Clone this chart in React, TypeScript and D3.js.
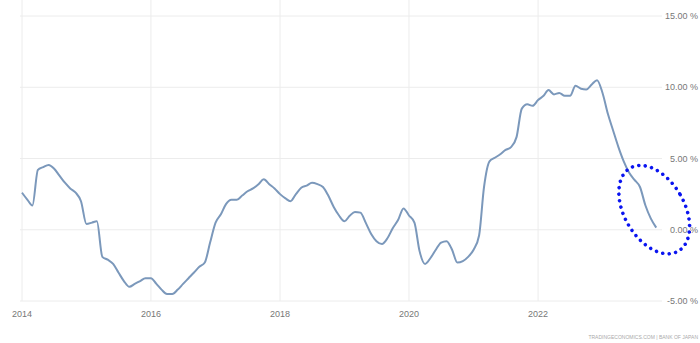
import React from "react";
import * as d3 from "d3";

const startYear = 2014;
const startMonth = 0;
const values: number[] = [
  2.6, 2.1, 1.7, 4.2, 4.4, 4.55, 4.3, 3.8, 3.3, 2.9, 2.6, 2.0,
  0.4, 0.5, 0.6, -1.9, -2.1, -2.4, -3.0, -3.6, -4.0, -3.8, -3.6, -3.4,
  -3.4, -3.8, -4.2, -4.5, -4.5, -4.2, -3.8, -3.4, -3.0, -2.6, -2.3, -0.9,
  0.5, 1.1, 1.8, 2.1, 2.1, 2.4, 2.7, 2.9, 3.2, 3.55, 3.2, 2.9,
  2.5, 2.2, 2.0, 2.5, 2.95, 3.1, 3.3, 3.2, 3.0, 2.4, 1.6, 1.0,
  0.6, 1.0, 1.25, 1.2, 0.5, -0.3, -0.8, -1.0, -0.6, 0.1, 0.7, 1.5,
  1.0, 0.5, -1.5, -2.4, -2.0, -1.4, -0.9, -0.8, -1.4, -2.3, -2.2, -1.9,
  -1.4, -0.4, 3.0, 4.8, 5.05, 5.3, 5.6, 5.8, 6.5, 8.5, 8.8, 8.7,
  9.1, 9.4, 9.8, 9.5, 9.6, 9.4, 9.4, 10.1, 9.9, 9.85, 10.2, 10.5,
  9.6, 8.1, 7.0, 5.8, 4.8, 4.0, 3.5, 3.0, 1.7, 0.8, 0.15,
];
const yTicks: number[] = [-5, 0, 5, 10, 15];
const xTickYears: number[] = [2014, 2016, 2018, 2020, 2022];
const sourceText = "TRADINGECONOMICS.COM | BANK OF JAPAN";

const W = 700;
const H = 343;

export default function App() {
  const data = values.map((v, i) => ({
    date: new Date(startYear, startMonth + i, 1),
    value: v,
  }));

  const x = d3
    .scaleTime()
    .domain([new Date(2014, 0, 1), new Date(2024, 0, 1)])
    .range([22, 22 + 64.5 * 10]);
  const y = d3.scaleLinear().domain([-5, 15]).range([301, 16]);

  const line = d3
    .line<{ date: Date; value: number }>()
    .x((d) => x(d.date))
    .y((d) => y(d.value))
    .curve(d3.curveMonotoneX);

  const font = "'Liberation Sans', Arial, sans-serif";
  const lastX = x(data[data.length - 1].date);
  const lastY = y(data[data.length - 1].value);

  return (
    <svg
      width={W}
      height={H}
      style={{ position: "absolute", left: 0, top: 0, background: "#fff" }}
    >
      {yTicks.map((t) => (
        <line
          key={"h" + t}
          x1={20}
          x2={662}
          y1={y(t)}
          y2={y(t)}
          stroke="#ececec"
          strokeWidth={1}
        />
      ))}
      {xTickYears.map((yr) => (
        <line
          key={"v" + yr}
          x1={x(new Date(yr, 0, 1))}
          x2={x(new Date(yr, 0, 1))}
          y1={0}
          y2={y(-5)}
          stroke="#ececec"
          strokeWidth={1}
        />
      ))}
      <path
        d={line(data) || ""}
        fill="none"
        stroke="#7b98bb"
        strokeWidth={2}
        strokeLinejoin="round"
      />
      {yTicks.map((t) => (
        <text
          key={"yl" + t}
          x={698}
          y={y(t) + 3}
          textAnchor="end"
          fontFamily={font}
          fontSize={9}
          fill="#777"
        >
          {t.toFixed(2) + " %"}
        </text>
      ))}
      {xTickYears.map((yr) => (
        <text
          key={"xl" + yr}
          x={x(new Date(yr, 0, 1))}
          y={317}
          textAnchor="middle"
          fontFamily={font}
          fontSize={9}
          fill="#777"
        >
          {yr}
        </text>
      ))}
      <text
        x={698}
        y={339}
        textAnchor="end"
        fontFamily={font}
        fontSize={5}
        fill="#aaa"
      >
        {sourceText}
      </text>
      <ellipse
        cx={lastX - 2}
        cy={lastY - 18}
        rx={30}
        ry={48}
        transform={`rotate(-30 ${lastX - 2} ${lastY - 18})`}
        fill="none"
        stroke="#0a14f0"
        strokeWidth={3.5}
        strokeDasharray="0 6.5"
        strokeLinecap="round"
      />
    </svg>
  );
}
